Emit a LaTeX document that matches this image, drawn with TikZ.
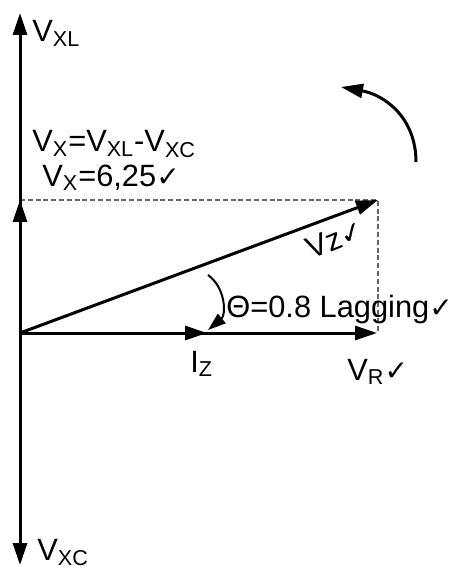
\documentclass[tikz,border=0pt]{standalone}
\usepackage{fontspec}
\setmainfont{Liberation Sans}
\newfontfamily\checkfont{DejaVu Sans}
\usetikzlibrary{positioning,arrows.meta}
\newcommand{\chk}{{\checkfont\fontsize{14}{15}\selectfont ✓}}

\begin{document}
\begin{tikzpicture}[
  x=0.5pt, y=0.5pt,
  font=\fontsize{15.4}{18}\selectfont,
  ph/.style={line width=1.5pt,-{Triangle[length=11pt,width=7pt]}},
  thinph/.style={line width=1pt,-{Triangle[length=9pt,width=6pt]}},
  guide/.style={draw=black!60,line width=0.6pt,dash pattern=on 2.5pt off 1.4pt},
  lbl/.style={inner sep=0pt,anchor=base west}
]
\useasboundingbox (-20,-235) rectangle (440,333);
% phasor end points
\coordinate (O) at (0,0);
\coordinate (xl) at (0,320);
\coordinate (xc) at (0,-232);
\coordinate (vx) at (0,133);
\coordinate (vz) at (358,133);
\coordinate (vzfoot) at (358,0);
\coordinate (vr) at (357,0);
\coordinate (iz) at (187,0);
\draw[guide] (vx) -- (vz) -- (vzfoot);
\draw[ph] (O) -- (xl);
\draw[ph] (O) -- (xc);
\draw[ph] (O) -- (vx);
\draw[ph] (O) -- (vz);
\draw[ph] (O) -- (vr);
\draw[ph] (O) -- (iz);
% angle and rotation
\coordinate (angs) at (188,58);
\coordinate (ange) at (188,3);
\draw[thinph] (angs) .. controls (206,45) and (206,18) .. (ange);
\coordinate (rots) at (396,171);
\coordinate (rote) at (321,246);
\draw[ph] (rots) .. controls (396,215) and (365,238) .. (rote);
% labels
\node[lbl] (lxl) at (12,291) {V\textsubscript{XL}};
\node[lbl] (lvx) at (12,181) {V\textsubscript{X}=V\textsubscript{XL}-V\textsubscript{XC}};
\node[lbl] (lval) at (22,147) {V\textsubscript{X}=6,25\chk};
\node[lbl] (lang) at (206,16) {Θ=0.8 Lagging\chk};
\node[lbl] (liz) at (170,-39) {I\textsubscript{Z}};
\node[lbl] (lvr) at (327,-47) {V\textsubscript{R}\chk};
\node[lbl] (lxc) at (17,-227) {V\textsubscript{XC}};
\node[inner sep=0pt,rotate=22] (lvz) at (315,94) {Vz\chk};
\end{tikzpicture}
\end{document}
